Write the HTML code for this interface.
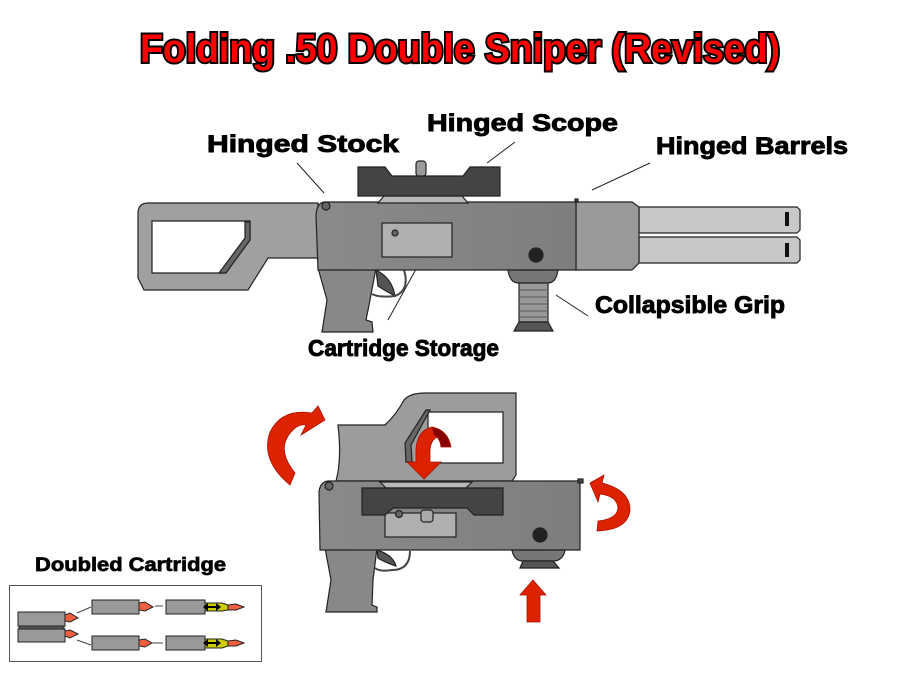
<!DOCTYPE html>
<html><head><meta charset="utf-8"><style>
html,body{margin:0;padding:0;background:#fff;}
svg{display:block;}
text{font-family:"Liberation Sans",Arial,sans-serif;font-weight:bold;}
</style></head><body>
<svg width="899" height="676" viewBox="0 0 899 676" xmlns="http://www.w3.org/2000/svg">
<defs>
<linearGradient id="rg" x1="0" x2="1"><stop offset="0" stop-color="#8a8a8a"/><stop offset="1" stop-color="#7e7e7e"/></linearGradient>
</defs>
<!-- Title -->
<text x="460" y="62" font-size="40" text-anchor="middle" textLength="640" lengthAdjust="spacingAndGlyphs" fill="#ff0000" stroke="#000" stroke-width="4" paint-order="stroke" style="font-family:'Liberation Sans Narrow','Liberation Sans',sans-serif">Folding .50 Double Sniper (Revised)</text>

<!-- Labels top -->
<g stroke="#000" stroke-width="0.9">
<text x="207" y="152" font-size="24" textLength="192" lengthAdjust="spacingAndGlyphs">Hinged Stock</text>
<text x="427" y="131" font-size="24" textLength="191" lengthAdjust="spacingAndGlyphs">Hinged Scope</text>
<text x="656" y="154" font-size="24" textLength="192" lengthAdjust="spacingAndGlyphs">Hinged Barrels</text>
<text x="595" y="313" font-size="24" textLength="190" lengthAdjust="spacingAndGlyphs">Collapsible Grip</text>
<text x="308" y="356" font-size="23" textLength="191" lengthAdjust="spacingAndGlyphs">Cartridge Storage</text>
</g>

<g stroke="#222" stroke-width="1">
<line x1="297" y1="163" x2="324" y2="193"/>
<line x1="487" y1="163" x2="515" y2="142"/>
<line x1="592" y1="190" x2="650" y2="163"/>
<line x1="556" y1="295" x2="588" y2="316"/>
<line x1="388" y1="320" x2="420" y2="262"/>
</g>

<!-- TOP GUN -->
<g stroke="#222" stroke-width="1.2">
<path d="M639 207 L797 207 L800 210 L800 230 L797 233 L639 233 Z" fill="#c8c8c8"/>
<path d="M639 237 L797 237 L800 240 L800 260 L797 263 L639 263 Z" fill="#c8c8c8"/>
<rect x="785" y="212" width="4" height="14" fill="#111" stroke="none"/>
<rect x="785" y="243" width="4" height="14" fill="#111" stroke="none"/>
<path d="M576 202 L632 202 L639 207 L639 263 L632 270 L576 270 Z" fill="#9a9a9a"/>
<rect x="575" y="199" width="3" height="3" fill="#444"/>
<path d="M148 203 L318 203 L318 258 L268 258 L248 290 L144 290 L138 278 L138 212 Q139 203 148 203 Z" fill="#a0a0a0"/>
<path d="M152 221 L250 221 L250 240 L225 273 L152 273 Z" fill="#fff"/>
<path d="M250 222 L250 240 L226 273 L219 273 L245 238 L245 222 Z" fill="#666"/>
<path d="M318 268 L376 268 L370 300 L366 320 L372 322 L373 332 L322 332 L327 300 Z" fill="#888"/>
<path d="M376 270 Q392 278 395 296 Q384 290 378 286 Z" fill="#555"/>
<path d="M404 270 Q410 290 395 296 Q380 298 372 294" fill="none" stroke="#444" stroke-width="2"/>
<path d="M324 202 L576 202 L576 270 L318 270 L316 215 Q317 203 324 202 Z" fill="url(#rg)"/>
<circle cx="326" cy="206" r="4" fill="#666"/>
<rect x="382" y="223" width="70" height="34" fill="#b0b0b0"/>
<circle cx="395" cy="233" r="3" fill="#666"/>
<circle cx="536" cy="255" r="7" fill="#222"/>
<path d="M378 203 L384 196 L462 196 L468 203 Z" fill="#b8b8b8"/>
<path d="M358 167 L385 167 L392 176 L463 176 L470 167 L500 167 L500 196 L358 196 Z" fill="#444"/>
<rect x="416" y="161" width="10" height="15" rx="3" fill="#999"/>
<path d="M508 270 L558 270 Q556 283 548 283 L518 283 Q510 283 508 270 Z" fill="#777"/>
<rect x="519" y="283" width="29" height="39" fill="#999"/>
<g stroke="#666"><line x1="519" y1="290" x2="548" y2="290"/><line x1="519" y1="297" x2="548" y2="297"/><line x1="519" y1="304" x2="548" y2="304"/><line x1="519" y1="311" x2="548" y2="311"/><line x1="519" y1="317" x2="548" y2="317"/></g>
<path d="M519 322 L548 322 L553 331 L514 331 Z" fill="#555"/>
</g>

<!-- BOTTOM FOLDED GUN -->
<g stroke="#222" stroke-width="1.2">
<path d="M338 425 L385 425 Q396 415 404 400 Q410 393 425 393 L516 393 L516 475 L512 481 L336 481 Q342 460 338 425 Z" fill="#9c9c9c"/>
<path d="M428 412 L503 412 L503 463 L428 463 Z" fill="#fff"/>
<path d="M430 410 L426 410 L405 443 L406 462 L412 462 L411 445 Z" fill="#666"/>
<path d="M325 548 L377 548 L373 580 L372 605 L377 607 L377 612 L326 612 L331 580 Z" fill="#888"/>
<path d="M377 550 Q393 555 396 566 Q384 562 378 558 Z" fill="#555"/>
<path d="M410 551 Q410 570 392 570 Q380 572 375 568" fill="none" stroke="#444" stroke-width="2"/>
<path d="M328 481 L580 481 L580 550 L320 550 L319 492 Q320 482 328 481 Z" fill="url(#rg)"/>
<circle cx="329" cy="486" r="4" fill="#666"/>
<rect x="578" y="479" width="5" height="4" fill="#444"/>
<rect x="385" y="513" width="71" height="24" fill="#b0b0b0"/>
<circle cx="399" cy="514" r="3.5" fill="#666"/>
<rect x="421" y="510" width="12" height="12" rx="3" fill="#aaa"/>
<circle cx="540" cy="535" r="7" fill="#222"/>
<path d="M380 482 L472 482 L466 488 L386 488 Z" fill="#b8b8b8"/>
<path d="M362 488 L503 488 L503 515 L474 515 L467 508 L393 508 L385 515 L362 515 Z" fill="#444"/>
<path d="M512 550 L565 550 Q563 561 553 561 L523 561 Q514 561 512 550 Z" fill="#777"/>
<path d="M523 561 L553 561 L559 568 L520 568 Z" fill="#555"/>
</g>

<!-- red arrows -->
<g fill="#dd2200" stroke="#aa1100" stroke-width="0.8">
<path d="M325 420 L318 406 L312 413 Q282 408 270 432 Q260 460 290 485 L295 473 Q278 452 288 436 Q297 423 306 425 L301 435 Z"/>
<path d="M424 479 L407 462 L416 462 L416 448 Q418 430 432 427 Q438 428 440 436 Q431 438 430 450 L430 462 L441 462 Z"/>
<path d="M432 427 Q448 430 451 447 L441 447 Q440 438 434 435 Z" fill="#880000"/>
<path d="M590 483 L604 475 L602 483 Q630 490 630 510 Q628 530 597 531 L598 521 Q617 519 618 508 Q617 496 600 494 L598 502 Z"/>
<path d="M533 580 L546 595 L540 595 L540 622 L527 622 L527 595 L520 595 Z"/>
</g>

<!-- Doubled cartridge -->
<text x="35" y="571" font-size="19" textLength="191" lengthAdjust="spacingAndGlyphs" stroke="#000" stroke-width="0.7">Doubled Cartridge</text>
<rect x="9.5" y="585.5" width="252" height="76" fill="#fff" stroke="#555" stroke-width="1"/>
<g stroke="#222" stroke-width="1">
<line x1="77" y1="613" x2="91" y2="607" stroke="#444"/>
<line x1="77" y1="640" x2="91" y2="645" stroke="#444"/>
<line x1="155" y1="606" x2="163" y2="606" stroke="#444"/>
<line x1="152" y1="643" x2="163" y2="643" stroke="#444"/>
<rect x="18" y="612" width="47" height="14" fill="#999"/>
<rect x="19" y="626" width="45" height="3" fill="#555"/>
<rect x="18" y="629" width="47" height="13" fill="#999"/>
<path d="M65 615 L70 613 L78 618 L70 622 L65 621 Z" fill="#f06040"/>
<path d="M65 631 L70 630 L78 634 L70 638 L65 636 Z" fill="#f06040"/>
<rect x="92" y="600" width="47" height="14" fill="#999"/>
<rect x="92" y="636" width="47" height="14" fill="#999"/>
<path d="M139 603 L145 602 L153 607 L145 611 L139 610 Z" fill="#f06040"/>
<path d="M139 640 L145 639 L152 643 L145 647 L139 646 Z" fill="#f06040"/>
<rect x="166" y="600" width="39" height="14" fill="#999"/>
<rect x="166" y="636" width="39" height="14" fill="#999"/>
<path d="M205 603 L222 603 L228 605 L228 610 L222 611 L205 611 Z" fill="#cccc00"/>
<path d="M205 639 L222 639 L228 641 L228 646 L222 648 L205 648 Z" fill="#cccc00"/>
<path d="M228 605 L236 604 L244 607 L236 610 L228 610 Z" fill="#f06040"/>
<path d="M228 641 L236 640 L244 643 L236 646 L228 646 Z" fill="#f06040"/>
</g>
<g fill="#000">
<path d="M203 607 L208 603 L208 606 L216 606 L216 603 L221 607 L216 611 L216 608 L208 608 L208 611 Z"/>
<path d="M203 643 L208 639 L208 642 L216 642 L216 639 L221 643 L216 647 L216 644 L208 644 L208 647 Z"/>
</g>
</svg>
</body></html>
